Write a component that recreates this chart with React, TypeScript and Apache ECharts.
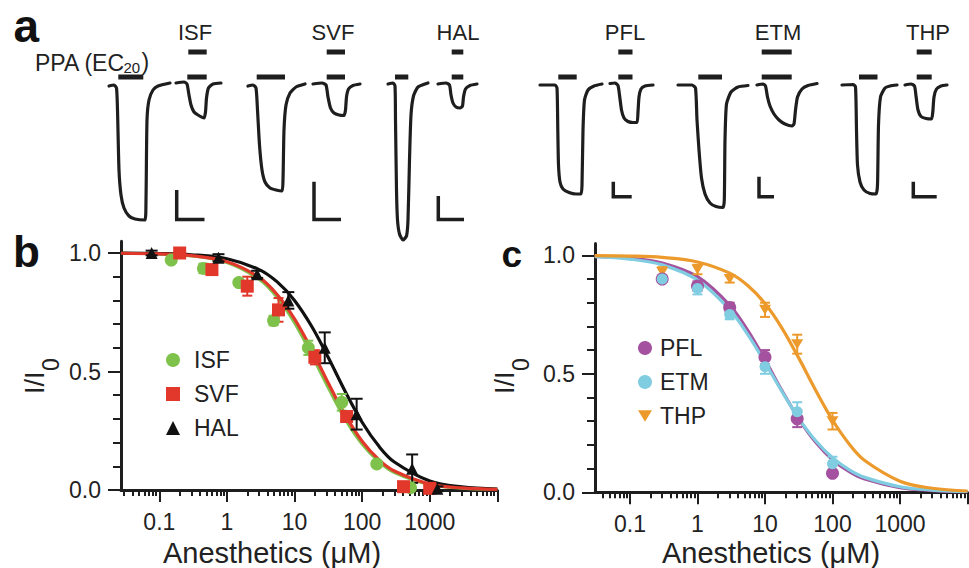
import React, { useEffect, useRef } from "react";
import * as echarts from "echarts";

// ---------- Panel a: current traces (time units, current relative to baseline) ----------
const traceISFctl = [[9,-1],[14,0],[16.5,-3],[17.5,-25],[19,-85],[21,-110],[24,-123],[29,-131],[35,-134],[45,-135],[46,-115],[47,-35],[49,-15],[53,-5],[58,-1],[70,2]];
const traceISF = [[76,2],[84,3],[87,1],[89,-10],[91,-20],[94,-27],[98,-30],[104,-33],[105.5,-27],[106.5,-13],[108.5,-3],[113,1],[121,2]];
const traceSVFctl = [[148,-1],[153,0],[156,-3],[157.5,-25],[159.5,-60],[162,-85],[165,-97],[170,-103],[176,-105],[182,-106],[183,-95],[184,-45],[186,-20],[190,-8],[196,-2],[205,1]];
const traceSVF = [[213,1],[222,2],[226,0],[228,-12],[230.5,-23],[234,-28],[239,-30],[244,-30.5],[245.5,-25],[246.5,-12],[248.5,-4],[253,-0.5],[260,1]];
const traceHALctl = [[288,1],[293,2],[295,-1],[295.5,-35],[296.5,-105],[297.5,-135],[299.5,-149],[303,-155],[306.5,-151],[308,-135],[309.5,-75],[311,-30],[313.5,-11],[318,-2],[328,2]];
const traceHAL = [[338,1],[346,2],[349.5,0],[351,-10],[353,-18],[356,-22],[360,-23],[362.5,-21],[363.5,-12],[365.5,-4],[370,-0.5],[377,1]];
const tracePFLctl = [[440,0],[455,0],[457,-3],[457.8,-45],[458.5,-80],[460,-97],[463,-104],[469,-107.5],[476,-109],[481,-109],[482,-100],[483,-45],[484.5,-15],[488,-5],[494,-1],[502,1]];
const tracePFL = [[510,1.5],[515,2],[518,-0.5],[519.5,-10],[521.5,-25],[524,-33],[528,-36.5],[533,-37.5],[537,-37.5],[538,-27],[539,-12],[541,-4],[545,-1],[553,0]];
const traceETMctl = [[578,0],[592,0],[595.5,-3],[597,-35],[599,-65],[601.5,-93],[605,-109],[610,-118],[616,-121.5],[623,-122.5],[624.3,-115],[625,-55],[626.5,-19],[631,-7],[638,-2],[648,-0.5]];
const traceETM = [[657,0],[663,1],[665.5,-1],[667.5,-12],[670,-21],[674,-29],[679,-35],[685,-39],[692,-41],[694,-39],[695.5,-25],[697.5,-12],[702,-4],[708,-0.5],[717,1.5]];
const traceTHPctl = [[742,0],[753,0.5],[755.5,-2],[756.5,-45],[757.5,-80],[760,-97],[764,-105],[770,-108.5],[776,-109],[777.5,-100],[778.5,-40],[780.5,-12],[785,-3],[790,-1],[797,0]];
const traceTHP = [[805,0],[811,1],[814.5,-1],[816,-11],[818,-25],[821,-31.5],[826,-33.5],[831.5,-34],[832.8,-27],[834,-12],[836.5,-4],[841,-1],[847,0]];
const allTraces = [traceISFctl, traceISF, traceSVFctl, traceSVF, traceHALctl, traceHAL, tracePFLctl, tracePFL, traceETMctl, traceETM, traceTHPctl, traceTHP];

// application bars [start, end]
const ppaLevel = 8;
const ppaBars = [[18.3,43.3],[87.3,106.7],[156.7,185],[226.7,245],[295,308.3],[351.7,363.3],[458.3,476.7],[518.3,532.5],[598.3,622],[661.7,691.7],[759,777.5],[816.7,831.7]];
const drugLevel = 33;
const drugBars = [[88.3,106.7],[226.7,245],[351.7,363.3],[518.3,532.5],[661.7,691.7],[816.7,831.7]];
const drugNames = ["ISF", "SVF", "HAL", "PFL", "ETM", "THP"];
// scale bars [t, top, bottom, tEnd]
const scaleBars = [[76.7,-105,-134.5,104.5],[214,-96.7,-134.5,241],[338.3,-111,-134.5,364],[513.3,-96.7,-111.7,531.7],[659,-91.7,-111.7,674],[813.3,-96.7,-111.7,836.7]];

// ---------- Panel b ----------
const concISF = [0.15, 0.45, 1.5, 4.9, 16, 50, 165, 520];
const respISF = [0.97, 0.935, 0.875, 0.715, 0.6, 0.37, 0.11, 0.01];
const errISF = [0.01, 0.02, 0.012, 0.02, 0.03, 0.035, 0.01, 0.005];
const concSVF = [0.2, 0.6, 2.0, 5.8, 20, 59, 410, 1000];
const respSVF = [1.0, 0.93, 0.86, 0.76, 0.56, 0.31, 0.014, 0.007];
const errSVF = [0.01, 0.02, 0.04, 0.05, 0.03, 0.02, 0.01, 0.01];
const concHAL = [0.077, 0.75, 2.8, 8.1, 28, 83, 550, 1300];
const respHAL = [1.0, 0.98, 0.91, 0.8, 0.6, 0.32, 0.09, 0.005];
const errHAL = [0.01, 0.015, 0.015, 0.035, 0.065, 0.065, 0.06, 0.01];

const fitConcB = [0.027, 0.1, 0.3, 1, 3, 5.6, 10, 18, 32, 56, 100, 180, 300, 1000, 3000, 10000];
const fitISF = [0.9989, 0.9959, 0.9877, 0.96, 0.889, 0.811, 0.706, 0.571, 0.429, 0.3, 0.194, 0.118, 0.074, 0.0234, 0.0079, 0.0024];
const fitSVF = [0.999, 0.996, 0.989, 0.963, 0.897, 0.823, 0.722, 0.591, 0.448, 0.317, 0.206, 0.126, 0.08, 0.025, 0.0086, 0.0026];
const fitHAL = [0.9993, 0.9975, 0.9926, 0.976, 0.93, 0.877, 0.8, 0.69, 0.556, 0.417, 0.286, 0.182, 0.118, 0.038, 0.013, 0.004];

// ---------- Panel c ----------
const concPFL = [0.3, 1, 3, 10, 30, 100];
const respPFL = [0.9, 0.87, 0.78, 0.57, 0.31, 0.08];
const errPFL = [0.01, 0.02, 0.02, 0.03, 0.035, 0.01];
const concETM = [0.3, 1, 3, 10, 30, 100];
const respETM = [0.9, 0.86, 0.75, 0.53, 0.34, 0.12];
const errETM = [0.01, 0.025, 0.02, 0.03, 0.04, 0.03];
const concTHP = [0.3, 1, 3, 10, 30, 100];
const respTHP = [0.93, 0.94, 0.9, 0.77, 0.625, 0.3];
const errTHP = [0.02, 0.02, 0.015, 0.03, 0.04, 0.035];

const fitConcC = [0.03, 0.1, 0.3, 1, 3, 5.6, 10, 18, 32, 56, 100, 180, 300, 1000, 3000, 10000];
const fitPFL = [0.9958, 0.9876, 0.9674, 0.9096, 0.789, 0.681, 0.559, 0.427, 0.308, 0.212, 0.1375, 0.0859, 0.056, 0.0197, 0.0074, 0.0025];
const fitETM = [0.9941, 0.9838, 0.9597, 0.8954, 0.7708, 0.6643, 0.5473, 0.4232, 0.31, 0.2184, 0.1459, 0.0939, 0.0629, 0.0236, 0.0094, 0.0034];
const fitTHP = [0.999, 0.9968, 0.9909, 0.972, 0.9246, 0.8714, 0.7963, 0.691, 0.564, 0.432, 0.305, 0.2006, 0.134, 0.0469, 0.017, 0.0055];

// ---------- axes ticks ----------
const xLabelValues = [0.1, 1, 10, 100, 1000];
const xLabelTexts = ["0.1", "1", "10", "100", "1000"];
const xMajorTicks = [0.1, 1, 10, 100, 1000, 10000];
const xMinorTicks = [0.03,0.04,0.05,0.06,0.07,0.08,0.09,0.2,0.3,0.4,0.5,0.6,0.7,0.8,0.9,2,3,4,5,6,7,8,9,20,30,40,50,60,70,80,90,200,300,400,500,600,700,800,900,2000,3000,4000,5000,6000,7000,8000,9000];
const yLabelValues = [0, 0.5, 1.0];
const yMinorTicks = [0.1, 0.2, 0.3, 0.4, 0.6, 0.7, 0.8, 0.9];

const C = {
  ISF: "#7fc24b",
  SVF: "#e2382b",
  HAL: "#111111",
  PFL: "#a4519f",
  ETM: "#80cde1",
  THP: "#ec9a2c",
  ink: "#1e1e1e",
};
const FONT = "Liberation Sans, Arial, Helvetica, sans-serif";
const DOWN_TRI = "path://M0,0L12,0L6,10Z";

function xAxesFor(gridIndex: number, xmin: number) {
  return [
    {
      type: "log", logBase: 10, gridIndex, min: xmin, max: 10000,
      axisLine: { show: true, onZero: false, lineStyle: { color: C.ink, width: 3 } },
      axisTick: { show: true, inside: false, length: 12, customValues: xMajorTicks, lineStyle: { color: C.ink, width: 2 } },
      axisLabel: {
        show: true, customValues: xLabelValues, margin: 20, fontSize: 23, color: "#222", fontFamily: FONT,
        formatter: (v: number) => {
          let best = 0;
          for (let i = 0; i < xLabelValues.length; i++) {
            if (Math.abs(Math.log10(v) - Math.log10(xLabelValues[i])) < Math.abs(Math.log10(v) - Math.log10(xLabelValues[best]))) best = i;
          }
          return xLabelTexts[best];
        },
      },
      splitLine: { show: false },
    },
    {
      type: "log", logBase: 10, gridIndex, min: xmin, max: 10000, position: "bottom", offset: 0,
      axisLine: { show: false },
      axisTick: { show: true, inside: false, length: 6, customValues: xMinorTicks, lineStyle: { color: C.ink, width: 2 } },
      axisLabel: { show: false },
      splitLine: { show: false },
    },
  ];
}

function yAxesFor(gridIndex: number) {
  return [
    {
      type: "value", gridIndex, min: 0, max: 1.05,
      axisLine: { show: true, onZero: false, lineStyle: { color: C.ink, width: 3 } },
      axisTick: { show: true, inside: false, length: 13, customValues: yLabelValues, lineStyle: { color: C.ink, width: 2 } },
      axisLabel: { show: true, customValues: yLabelValues, margin: 20, fontSize: 23, color: "#222", fontFamily: FONT, formatter: (v: number) => v.toFixed(1) },
      splitLine: { show: false },
    },
    {
      type: "value", gridIndex, min: 0, max: 1.05, position: "left", offset: 0,
      axisLine: { show: false },
      axisTick: { show: true, inside: false, length: 8, customValues: yMinorTicks, lineStyle: { color: C.ink, width: 2 } },
      axisLabel: { show: false },
      splitLine: { show: false },
    },
  ];
}

function fitSeries(name: string, xs: number[], ys: number[], color: string, xi: number, yi: number) {
  return {
    type: "line", name: name + " fit", xAxisIndex: xi, yAxisIndex: yi,
    data: xs.map((x, i) => [x, ys[i]]), smooth: 0.35, symbol: "none", showSymbol: false,
    lineStyle: { color, width: 3.2 }, z: 2, silent: true,
  };
}

function errSeries(name: string, xs: number[], ys: number[], es: number[], color: string, xi: number, yi: number, cap: number) {
  return {
    type: "custom", name: name + " err", xAxisIndex: xi, yAxisIndex: yi, clip: false, z: 3, silent: true,
    data: xs.map((x, i) => [x, ys[i] - es[i], ys[i] + es[i]]),
    encode: { x: 0, y: [1, 2] },
    renderItem: (params: any, api: any) => {
      const x = api.value(0);
      const lo = api.coord([x, api.value(1)]);
      const hi = api.coord([x, api.value(2)]);
      const style = { stroke: color, lineWidth: 2 };
      return {
        type: "group",
        children: [
          { type: "line", shape: { x1: lo[0], y1: lo[1], x2: hi[0], y2: hi[1] }, style },
          { type: "line", shape: { x1: lo[0] - cap, y1: lo[1], x2: lo[0] + cap, y2: lo[1] }, style },
          { type: "line", shape: { x1: hi[0] - cap, y1: hi[1], x2: hi[0] + cap, y2: hi[1] }, style },
        ],
      };
    },
  };
}

function dotSeries(name: string, xs: number[], ys: number[], color: string, xi: number, yi: number, symbol: string, size: number | number[]) {
  return {
    type: "scatter", name, xAxisIndex: xi, yAxisIndex: yi, clip: false, z: 4,
    data: xs.map((x, i) => [x, ys[i]]), symbol, symbolSize: size,
    itemStyle: { color, opacity: 1 },
  };
}

function text(x: number, y: number, t: string, size: number, opts: any = {}) {
  return {
    type: "text", x, y, z: 100, silent: true,
    style: { text: t, fontSize: size, fontFamily: FONT, fill: "#222", align: "center", verticalAlign: "middle", ...opts },
  };
}

export default function App() {
  const ref = useRef<HTMLDivElement>(null);
  useEffect(() => {
    if (!ref.current) return;
    const chart = echarts.init(ref.current, undefined, { renderer: "svg" });

    const traceSeries = allTraces.map((tr) => ({
      type: "line", xAxisIndex: 0, yAxisIndex: 0, data: tr, symbol: "none", showSymbol: false, smooth: 0.2,
      lineStyle: { color: C.ink, width: 3.2, cap: "round", join: "round" }, silent: true,
    }));
    const ppaSeries = ppaBars.map(([a, b]) => ({
      type: "line", xAxisIndex: 0, yAxisIndex: 0, data: [[a, ppaLevel], [b, ppaLevel]], symbol: "none",
      lineStyle: { color: C.ink, width: 5, cap: "butt" }, silent: true,
    }));
    const drugSeries = drugBars.map(([a, b]) => ({
      type: "line", xAxisIndex: 0, yAxisIndex: 0, data: [[a, drugLevel], [b, drugLevel]], symbol: "none",
      lineStyle: { color: C.ink, width: 5, cap: "butt" }, silent: true,
    }));
    const scaleSeries = scaleBars.map(([t, top, bottom, tEnd]) => ({
      type: "line", xAxisIndex: 0, yAxisIndex: 0, data: [[t, top], [t, bottom], [tEnd, bottom]], symbol: "none",
      lineStyle: { color: C.ink, width: 3.5, cap: "butt", join: "miter" }, silent: true,
    }));

    const bx = xAxesFor(1, 0.0271);
    const cx = xAxesFor(2, 0.0303);
    const by = yAxesFor(1);
    const cy = yAxesFor(2);

    const drugLabelX = [195, 333, 458, 625, 778, 928];

    const yName = (x: number) => ({
      type: "group", x, y: 394, rotation: Math.PI / 2, silent: true, z: 100,
      children: [
        { type: "text", x: 0, y: 0, z: 100, style: { text: "I/I", fontSize: 27, fontFamily: FONT, fill: "#222", align: "left", verticalAlign: "middle" } },
        { type: "text", x: 23, y: 16, z: 100, style: { text: "0", fontSize: 23, fontFamily: FONT, fill: "#222", align: "left", verticalAlign: "middle" } },
      ],
    });

    const option: any = {
      animation: false,
      backgroundColor: "#ffffff",
      textStyle: { fontFamily: FONT },
      grid: [
        { left: 100, top: 40, width: 869, height: 210 },
        { left: 121, top: 241.15, width: 376.3, height: 248.85 },
        { left: 595, top: 243.45, width: 372.5, height: 248.85 },
      ],
      xAxis: [
        { type: "value", gridIndex: 0, min: 0, max: 869, show: false },
        bx[0], bx[1], cx[0], cx[1],
      ],
      yAxis: [
        { type: "value", gridIndex: 0, min: -165, max: 45, show: false },
        by[0], by[1], cy[0], cy[1],
      ],
      legend: [
        {
          data: ["ISF", "SVF", "HAL"], orient: "vertical", left: 166, top: 348, padding: 0,
          itemWidth: 14, itemHeight: 14, itemGap: 10, selectedMode: false,
          textStyle: { fontSize: 23, lineHeight: 24, color: "#222", fontFamily: FONT, padding: [0, 0, 0, 9] },
        },
        {
          data: ["PFL", "ETM", "THP"], orient: "vertical", left: 638, top: 336, padding: 0,
          itemWidth: 14, itemHeight: 14, itemGap: 10, selectedMode: false,
          textStyle: { fontSize: 23, lineHeight: 24, color: "#222", fontFamily: FONT, padding: [0, 0, 0, 3] },
        },
      ],
      series: [
        ...traceSeries, ...ppaSeries, ...drugSeries, ...scaleSeries,
        fitSeries("ISF", fitConcB, fitISF, C.ISF, 1, 1),
        fitSeries("HAL", fitConcB, fitHAL, C.HAL, 1, 1),
        fitSeries("SVF", fitConcB, fitSVF, C.SVF, 1, 1),
        errSeries("ISF", concISF, respISF, errISF, C.ISF, 1, 1, 5),
        dotSeries("ISF", concISF, respISF, C.ISF, 1, 1, "circle", 13),
        errSeries("SVF", concSVF, respSVF, errSVF, C.SVF, 1, 1, 5),
        dotSeries("SVF", concSVF, respSVF, C.SVF, 1, 1, "rect", 13),
        errSeries("HAL", concHAL, respHAL, errHAL, C.HAL, 1, 1, 6),
        dotSeries("HAL", concHAL, respHAL, C.HAL, 1, 1, "triangle", 12),
        fitSeries("PFL", fitConcC, fitPFL, C.PFL, 3, 3),
        fitSeries("ETM", fitConcC, fitETM, C.ETM, 3, 3),
        fitSeries("THP", fitConcC, fitTHP, C.THP, 3, 3),
        errSeries("THP", concTHP, respTHP, errTHP, C.THP, 3, 3, 5),
        dotSeries("THP", concTHP, respTHP, C.THP, 3, 3, DOWN_TRI, [12, 10]),
        errSeries("PFL", concPFL, respPFL, errPFL, C.PFL, 3, 3, 5),
        dotSeries("PFL", concPFL, respPFL, C.PFL, 3, 3, "circle", 13),
        errSeries("ETM", concETM, respETM, errETM, C.ETM, 3, 3, 5),
        dotSeries("ETM", concETM, respETM, C.ETM, 3, 3, "circle", 11),
      ],
      graphic: [
        text(13.5, 26, "a", 46, { fontWeight: "bold", align: "left", fill: "#111" }),
        text(13, 251.8, "b", 44, { fontWeight: "bold", align: "left", fill: "#111" }),
        text(501.5, 254.2, "c", 37, { fontWeight: "bold", align: "left", fill: "#111" }),
        ...drugNames.map((n, i) => text(drugLabelX[i], 32.4, n, 22)),
        text(124, 63, "PPA (EC", 23, { align: "right" }),
        text(123.5, 67.5, "20", 15, { align: "left" }),
        text(141.5, 62, ")", 23, { align: "left" }),
        text(272, 553, "Anesthetics (\u03bcM)", 29),
        text(771, 553, "Anesthetics (\u03bcM)", 29),
        yName(35),
        yName(505),
      ],
    };
    chart.setOption(option);
    return () => chart.dispose();
  }, []);
  return <div ref={ref} style={{ position: "absolute", left: 0, top: 0, width: 969, height: 568, background: "#fff" }} />;
}
